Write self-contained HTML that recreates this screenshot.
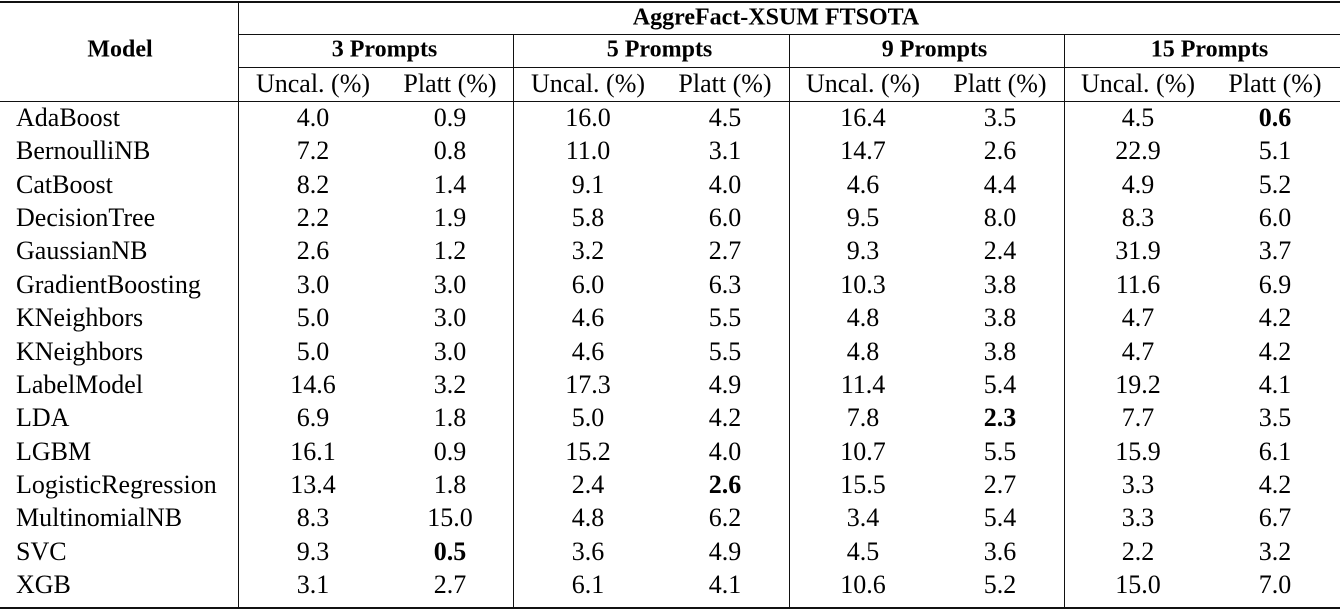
<!DOCTYPE html>
<html><head><meta charset="utf-8"><style>
body{margin:0;background:#fff;width:1340px;height:611px;overflow:hidden;font-family:"Liberation Serif",serif;color:#000}
#t{position:relative;width:1340px;height:611px}
.l{position:absolute;background:#111}
.c{position:absolute;transform:translate(-50%,-50%);white-space:nowrap;font-size:26px}
.m{position:absolute;transform:translateY(-50%);left:16px;white-space:nowrap;font-size:26px}
b{font-weight:bold}
</style></head><body>
<div id="t">
<div class="l" style="left:0;top:1px;width:1340px;height:2px"></div>
<div class="l" style="left:238px;top:1px;width:1px;height:607px"></div>
<div class="l" style="left:238px;top:34px;width:1102px;height:1px"></div>
<div class="l" style="left:238px;top:67px;width:1102px;height:1px"></div>
<div class="l" style="left:0;top:101px;width:1340px;height:1px"></div>
<div class="l" style="left:513px;top:35px;width:1px;height:573px"></div>
<div class="l" style="left:789px;top:35px;width:1px;height:573px"></div>
<div class="l" style="left:1064px;top:35px;width:1px;height:573px"></div>
<div class="l" style="left:0;top:607px;width:1340px;height:2px"></div>
<div class="c" style="left:120px;top:50px;font-weight:bold;font-size:24px">Model</div>
<div class="c" style="left:776px;top:18px;font-weight:bold;font-size:24px">AggreFact-XSUM FTSOTA</div>
</div>
<script>
const models=["AdaBoost","BernoulliNB","CatBoost","DecisionTree","GaussianNB","GradientBoosting","KNeighbors","KNeighbors","LabelModel","LDA","LGBM","LogisticRegression","MultinomialNB","SVC","XGB"];
const groups=["3 Prompts","5 Prompts","9 Prompts","15 Prompts"];
const values=[
["4.0","0.9","16.0","4.5","16.4","3.5","4.5","0.6"],
["7.2","0.8","11.0","3.1","14.7","2.6","22.9","5.1"],
["8.2","1.4","9.1","4.0","4.6","4.4","4.9","5.2"],
["2.2","1.9","5.8","6.0","9.5","8.0","8.3","6.0"],
["2.6","1.2","3.2","2.7","9.3","2.4","31.9","3.7"],
["3.0","3.0","6.0","6.3","10.3","3.8","11.6","6.9"],
["5.0","3.0","4.6","5.5","4.8","3.8","4.7","4.2"],
["5.0","3.0","4.6","5.5","4.8","3.8","4.7","4.2"],
["14.6","3.2","17.3","4.9","11.4","5.4","19.2","4.1"],
["6.9","1.8","5.0","4.2","7.8","2.3","7.7","3.5"],
["16.1","0.9","15.2","4.0","10.7","5.5","15.9","6.1"],
["13.4","1.8","2.4","2.6","15.5","2.7","3.3","4.2"],
["8.3","15.0","4.8","6.2","3.4","5.4","3.3","6.7"],
["9.3","0.5","3.6","4.9","4.5","3.6","2.2","3.2"],
["3.1","2.7","6.1","4.1","10.6","5.2","15.0","7.0"]];
const bold=[[0,7],[9,5],[11,3],[13,1]];
const t=document.getElementById('t');
const colX=[313,450,588,725,863,1000,1138,1275];
function mk(cls,x,y,txt,name){const d=document.createElement('div');d.className=cls;if(x!==null)d.style.left=x+'px';d.style.top=y+'px';d.innerHTML=txt;


t.appendChild(d);return d;}
groups.forEach((g,i)=>{const d=mk('c',(colX[2*i]+colX[2*i+1])/2+3,50,'<b>'+g+'</b>','group-header');d.style.fontSize='24px';});
colX.forEach((x,j)=>{mk('c',x,84,j%2?'Platt (%)':'Uncal. (%)','column-header');});
models.forEach((m,r)=>{const y=118+r*33.36;mk('m',null,y,m,'model-name');
values[r].forEach((v,j)=>{const b=bold.some(p=>p[0]===r&&p[1]===j);mk('c',colX[j],y,b?'<b>'+v+'</b>':v,'cell-value');});});
</script>
</body></html>
